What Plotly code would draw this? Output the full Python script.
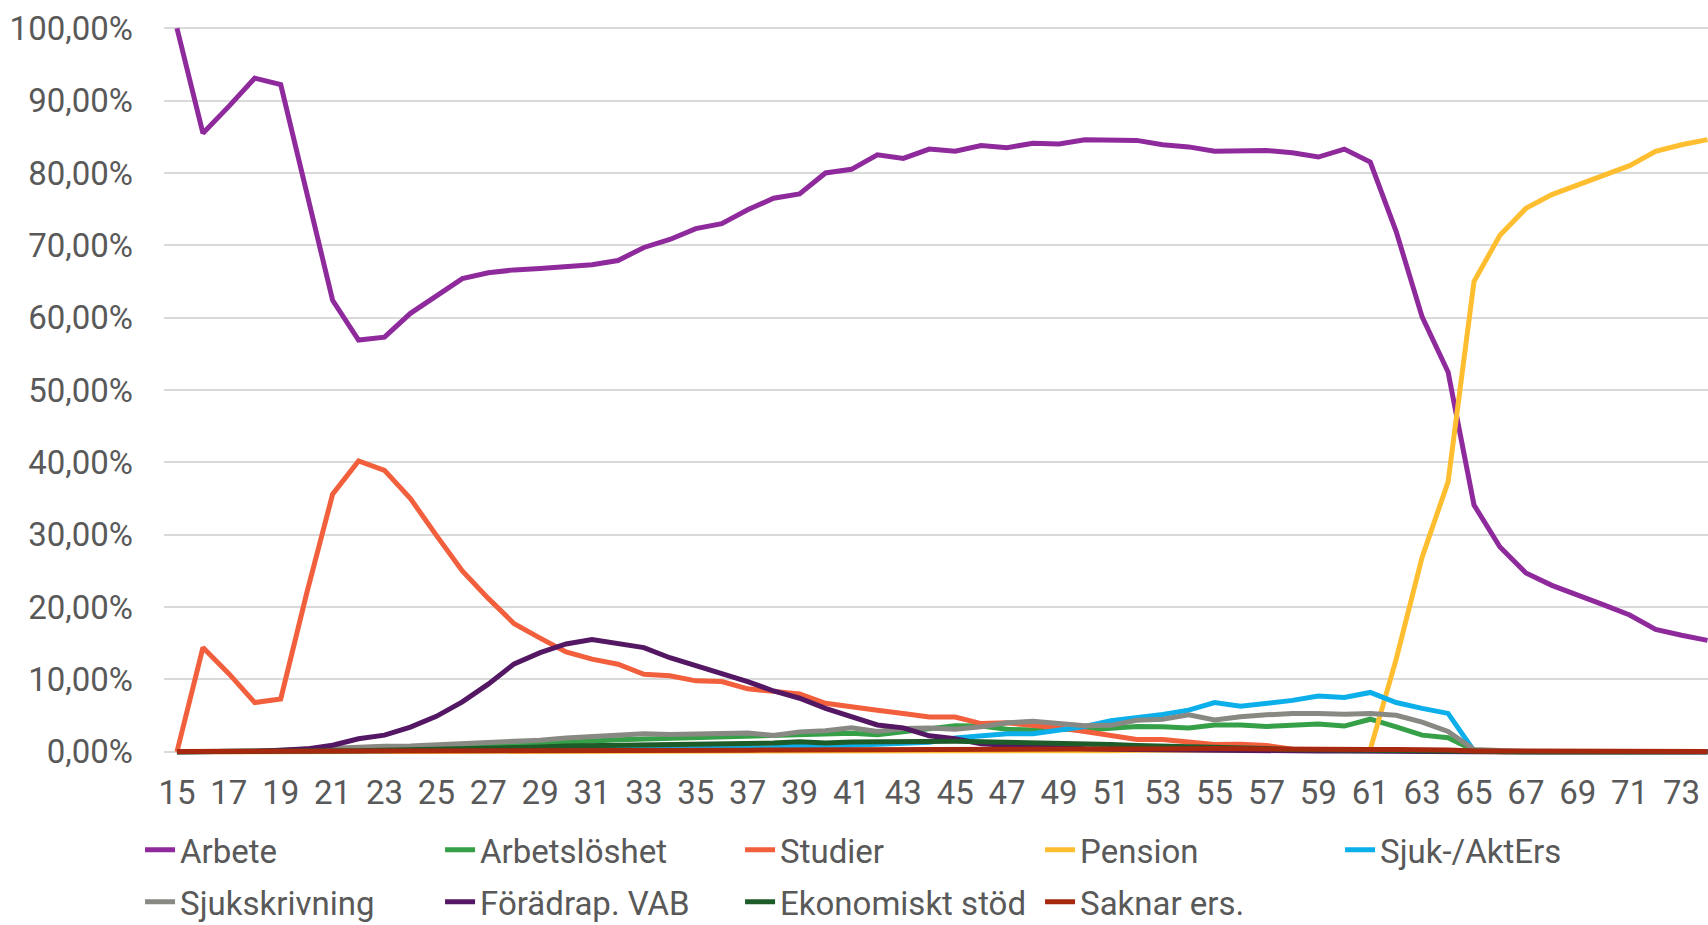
import plotly.graph_objects as go

ages = list(range(15, 75))
tick_ages = list(range(15, 74, 2))
tick_labels = [str(a) for a in tick_ages]

series_names = ["Arbete", "Arbetslöshet", "Studier", "Pension", "Sjuk-/AktErs",
                "Sjukskrivning", "Förädrap. VAB", "Ekonomiskt stöd", "Saknar ers."]

arbete = [100.0, 85.5, 89.2, 93.1, 92.2, 77.0, 62.4, 56.9, 57.3, 60.6,
          63.1, 65.4, 66.2, 66.6, 66.8, 67.0, 67.3, 67.9, 69.7, 70.8,
          72.3, 73.0, 74.9, 76.5, 77.1, 80.0, 80.5, 82.5, 82.0, 83.3,
          83.0, 83.8, 83.5, 84.1, 84.0, 84.6, 84.5, 84.5, 83.9, 83.6,
          83.0, 83.0, 83.1, 82.8, 82.2, 83.3, 81.5, 71.9, 60.1, 52.5,
          34.1, 28.3, 24.7, 23.0, 21.7, 20.3, 18.9, 16.9, 16.1, 15.4]

arbetsloshet = [0, 0, 0, 0, 0.05, 0.1, 0.2, 0.3, 0.3, 0.4,
                0.45, 0.55, 0.7, 0.85, 1.1, 1.35, 1.5, 1.65, 1.75, 1.85,
                1.9, 2.0, 2.05, 2.15, 2.2, 2.45, 2.55, 2.35, 2.8, 3.1,
                3.6, 3.55, 3.1, 3.0, 3.1, 3.0, 3.3, 3.5, 3.45, 3.3,
                3.7, 3.7, 3.5, 3.65, 3.85, 3.55, 4.5, 3.45, 2.3, 1.95,
                0.2, 0, 0, 0, 0, 0, 0, 0, 0, 0]

studier = [0, 14.4, 10.8, 6.8, 7.3, 21.9, 35.6, 40.2, 38.9, 35.0,
           29.9, 25.0, 21.2, 17.7, 15.7, 13.8, 12.8, 12.1, 10.7, 10.5,
           9.8, 9.7, 8.7, 8.4, 8.0, 6.7, 6.3, 5.75, 5.3, 4.8,
           4.8, 3.9, 4.0, 3.7, 3.3, 2.8, 2.3, 1.7, 1.7, 1.3,
           1.0, 1.05, 0.85, 0.35, 0.3, 0.15, 0.1, 0.05, 0, 0,
           0, 0, 0, 0, 0, 0, 0, 0, 0, 0]

pension = [0, 0, 0, 0, 0, 0, 0, 0, 0, 0,
           0, 0, 0, 0, 0, 0, 0, 0, 0, 0,
           0, 0, 0, 0, 0, 0, 0, 0, 0.05, 0.05,
           0.1, 0.1, 0.1, 0.15, 0.15, 0.15, 0.15, 0.2, 0.2, 0.2,
           0.2, 0.2, 0.2, 0.2, 0.2, 0.2, 0.3, 12.8, 26.9, 37.3,
           65.0, 71.4, 75.1, 77.0, 78.3, 79.7, 81.0, 83.0, 83.9, 84.6]

sjuk_akters = [0, 0, 0, 0, 0.05, 0.1, 0.1, 0.15, 0.15, 0.2,
               0.2, 0.2, 0.25, 0.25, 0.3, 0.3, 0.3, 0.35, 0.35, 0.4,
               0.4, 0.45, 0.5, 0.6, 0.85, 0.75, 0.85, 1.0, 1.1, 1.3,
               1.9, 2.2, 2.5, 2.5, 3.0, 3.5, 4.3, 4.7, 5.15, 5.75,
               6.8, 6.3, 6.7, 7.1, 7.7, 7.5, 8.2, 6.8, 6.0, 5.3,
               0.1, 0, 0, 0, 0, 0, 0, 0, 0, 0]

sjukskrivning = [0, 0, 0, 0.1, 0.2, 0.35, 0.55, 0.7, 0.75, 0.8,
                 0.95, 1.0, 1.3, 1.45, 1.6, 1.9, 2.1, 2.4, 2.5, 2.4,
                 2.5, 2.5, 2.6, 2.25, 2.75, 2.9, 3.3, 2.8, 3.2, 3.3,
                 3.1, 3.45, 4.0, 4.2, 3.9, 3.6, 3.65, 4.35, 4.5, 5.1,
                 4.4, 4.85, 5.1, 5.3, 5.3, 5.2, 5.3, 5.05, 4.1, 2.8,
                 0.3, 0.1, 0.05, 0, 0, 0, 0, 0, 0, 0]

foraldrap = [0, 0, 0, 0.05, 0.2, 0.4, 0.9, 1.8, 2.3, 3.4,
             4.9, 6.9, 9.35, 12.15, 13.7, 14.9, 15.5, 15.0, 14.4, 13.0,
             11.9, 10.9, 9.7, 8.4, 7.4, 6.0, 4.8, 3.7, 3.3, 2.2,
             1.8, 1.1, 0.9, 0.7, 0.5, 0.4, 0.35, 0.3, 0.25, 0.2,
             0.2, 0.15, 0.15, 0.1, 0.1, 0.1, 0.05, 0.05, 0, 0,
             0, 0, 0, 0, 0, 0, 0, 0, 0, 0]

ekonomiskt = [0, 0, 0, 0, 0, 0.05, 0.1, 0.15, 0.2, 0.25,
              0.3, 0.35, 0.45, 0.55, 0.65, 0.8, 0.85, 0.9, 0.9, 1.0,
              1.05, 1.15, 1.1, 1.2, 1.4, 1.2, 1.35, 1.4, 1.45, 1.45,
              1.45, 1.4, 1.35, 1.25, 1.2, 1.05, 1.0, 0.85, 0.8, 0.65,
              0.65, 0.55, 0.45, 0.3, 0.25, 0.2, 0.15, 0.1, 0.05, 0.05,
              0, 0, 0, 0, 0, 0, 0, 0, 0, 0]

saknar = [0.05, 0.05, 0.05, 0.05, 0.05, 0.1, 0.1, 0.1, 0.1, 0.1,
          0.1, 0.15, 0.15, 0.15, 0.15, 0.15, 0.2, 0.2, 0.2, 0.2,
          0.2, 0.2, 0.2, 0.25, 0.25, 0.25, 0.25, 0.3, 0.3, 0.3,
          0.3, 0.3, 0.3, 0.3, 0.35, 0.35, 0.35, 0.35, 0.35, 0.4,
          0.45, 0.4, 0.4, 0.35, 0.35, 0.3, 0.3, 0.3, 0.3, 0.25,
          0.1, 0.1, 0.1, 0.1, 0.1, 0.1, 0.1, 0.05, 0.05, 0.05]

series_values = [arbete, arbetsloshet, studier, pension, sjuk_akters,
                 sjukskrivning, foraldrap, ekonomiskt, saknar]
colors = ["#8F2A9C", "#35A047", "#F25F3D", "#FFBE30", "#0DAFEA",
          "#898983", "#541763", "#1D5B29", "#A6280F"]
legend_rows = ["legend", "legend", "legend", "legend", "legend",
               "legend2", "legend2", "legend2", "legend2"]

FONT = "Roboto, Arial, sans-serif"
TXT = "#595959"
FS = 33

fig = go.Figure()
for name, vals, col, lg in zip(series_names, series_values, colors, legend_rows):
    fig.add_trace(go.Scatter(
        x=ages, y=[v / 100 for v in vals], name=name, mode="lines",
        line=dict(color=col, width=5), legend=lg,
    ))

legend_common = dict(orientation="h", xanchor="left", yanchor="middle",
                     xref="container", yref="container",
                     entrywidth=255, entrywidthmode="pixels",
                     font=dict(family=FONT, size=FS, color=TXT),
                     bgcolor="rgba(0,0,0,0)", borderwidth=0,
                     traceorder="normal")

fig.update_layout(
    width=1708, height=925,
    margin=dict(l=164, r=0, t=21, b=166, autoexpand=False),
    paper_bgcolor="white", plot_bgcolor="white",
    separators=", ",
    font=dict(family=FONT, size=FS, color=TXT),
    showlegend=True,
    legend=dict(x=0.082, y=0.0813, **legend_common),
    legend2=dict(x=0.082, y=0.0251, **legend_common),
    xaxis=dict(
        range=[14.5, 74.02], tickmode="array", tickvals=tick_ages, ticktext=tick_labels,
        showgrid=False, zeroline=False, showline=False, automargin=False,
        ticks="outside", ticklen=4, tickcolor="rgba(0,0,0,0)",
        tickfont=dict(family=FONT, size=FS, color=TXT),
    ),
    yaxis=dict(
        range=[-0.01, 1.01], tickmode="array",
        tickvals=[i / 10 for i in range(11)], tickformat=".2%",
        showgrid=True, gridcolor="#D9D9D9", gridwidth=1.5,
        zeroline=False, showline=False, automargin=False,
        ticklabelstandoff=30,
        tickfont=dict(family=FONT, size=FS, color=TXT),
    ),
)

fig.write_html(
    "out.html",
    config={"displayModeBar": False},
    post_script="document.body.style.margin='0';document.body.style.overflow='hidden';",
)
